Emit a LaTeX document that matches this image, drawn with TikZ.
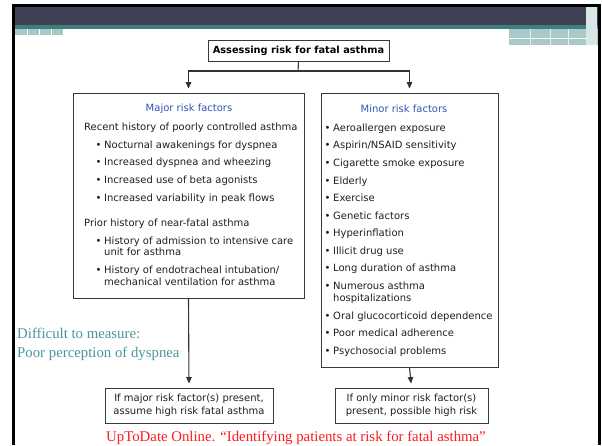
\documentclass[tikz,border=0pt]{standalone}
\usepackage{fontspec}
\setmainfont{Liberation Serif}
\newfontfamily\verd{DejaVu Sans}
\usetikzlibrary{arrows.meta,positioning}
\definecolor{banner}{HTML}{404055}
\definecolor{bandteal}{HTML}{3E7F80}
\definecolor{paleteal}{HTML}{A9C9C8}
\definecolor{noteteal}{HTML}{4A9696}
\definecolor{headblue}{HTML}{2F55B0}
\definecolor{citered}{HTML}{FF1A1A}
\definecolor{boxline}{HTML}{3A3A3A}
\begin{document}
\begin{tikzpicture}[x=1pt,y=-1pt,
		box/.style={draw=boxline, line width=0.9pt, inner sep=0pt},
		line/.style={font=\verd\fontsize{10}{13}\selectfont, text=black!88, inner sep=0pt, anchor=base west},
		head/.style={font=\verd\fontsize{10}{13}\selectfont, text=headblue, inner sep=0pt, anchor=base},
		arr/.style={draw=black!80, line width=1.1pt, -{Triangle[width=5.5pt,length=6.5pt]}, shorten >=4pt},
		note/.style={font=\fontsize{14.8}{18}\selectfont, inner sep=0pt, anchor=base west}]

	\useasboundingbox (0,0) rectangle (602,445);

	% slide frame and banner
	\fill[black] (12,4) rectangle (601,7);
	\fill[black] (12,4) rectangle (15,445);
	\fill[black] (598,4) rectangle (601,445);
	\fill[banner] (15,7) rectangle (598,25);
	\fill[bandteal] (15,25) rectangle (598,29);
	\fill[paleteal] (15,29) rectangle (63,35);
	\foreach \x in {27,39,51} {\draw[white, line width=0.3pt] (\x,29) -- (\x,35);}
	\fill[paleteal] (509,29) rectangle (598,45);
	\draw[white, line width=1pt] (509,38) -- (590,38);
	\foreach \x in {530,550,568} {\draw[white!70!paleteal, line width=0.3pt] (\x,29) -- (\x,45);}
	\fill[paleteal!45] (586,7) rectangle (597,45);

	% boxes
	\node[box, minimum width=181pt, minimum height=21pt, font=\verd\bfseries\fontsize{9.8}{13}\selectfont] (title) at (298.5,50.5) {Assessing risk for fatal asthma};
	\node[box, minimum width=231pt, minimum height=205pt] (major) at (188.5,195.5) {};
	\node[box, minimum width=177pt, minimum height=274pt] (minor) at (409.5,230) {};
	\node[box, minimum width=168pt, minimum height=35pt, align=center, font=\verd\fontsize{10}{13}\selectfont, text=black!88] (resmaj) at (189,405.5) {If major risk factor(s) present,\\assume high risk fatal asthma};
	\node[box, minimum width=153pt, minimum height=35pt, align=center, font=\verd\fontsize{10}{13}\selectfont, text=black!88] (resmin) at (411.5,405.5) {If only minor risk factor(s)\\present, possible high risk};

	% Major risk factors
	\node[head] (majhead) at (189,111.5) {Major risk factors};
	\foreach \x/\y/\b/\t [count=\i] in {84/127/0/Recent history of poorly controlled asthma,
			104/145/1/Nocturnal awakenings for dyspnea, 104/162/1/Increased dyspnea and wheezing,
			104/180/1/Increased use of beta agonists, 104/198/1/Increased variability in peak flows,
			84/223/0/Prior history of near-fatal asthma, 104/241/1/History of admission to intensive care,
			104/252/0/unit for asthma, 104/270/1/{History of endotracheal intubation/},
			104/282/0/mechanical ventilation for asthma} {
			\node[line] (maj\i) at (\x,\y+3.5) {\ifnum\b=1 \llap{•\hspace{2.6pt}}\fi\t};
		}

	% Minor risk factors
	\node[head] (minhead) at (404,112.5) {Minor risk factors};
	\foreach \y/\b/\t [count=\i] in {128/1/Aeroallergen exposure, 145/1/{Aspirin/NSAID sensitivity},
			163/1/Cigarette smoke exposure, 181/1/Elderly, 198/1/Exercise, 216/1/Genetic factors,
			233/1/Hyperinflation, 251/1/Illicit drug use, 268/1/Long duration of asthma,
			286/1/Numerous asthma, 297.5/0/hospitalizations, 316/1/Oral glucocorticoid dependence,
			333/1/Poor medical adherence, 351/1/Psychosocial problems} {
			\node[line] (min\i) at (333,\y+3.5) {\ifnum\b=1 \llap{•\hspace{2.6pt}}\fi\t};
		}

	% connectors
	\coordinate (split) at (298,71);
	\draw[draw=black!80, line width=1.1pt] (title.south) -- (split);
	\draw[arr] (split) -| (major.north);
	\draw[arr] (split) -| (minor.north);
	\draw[arr] (major.south) -- (resmaj.north);
	\draw[arr] (minor.south) -- (resmin.north);

	% side note and source
	\node[note, text=noteteal] (note1) at (17,338) {Difficult to measure:};
	\node[note, text=noteteal] (note2) at (17,357) {Poor perception of dyspnea};
	\node[note, text=citered, anchor=base] (source) at (296,441) {UpToDate Online. “Identifying patients at risk for fatal asthma”};
\end{tikzpicture}
\end{document}
